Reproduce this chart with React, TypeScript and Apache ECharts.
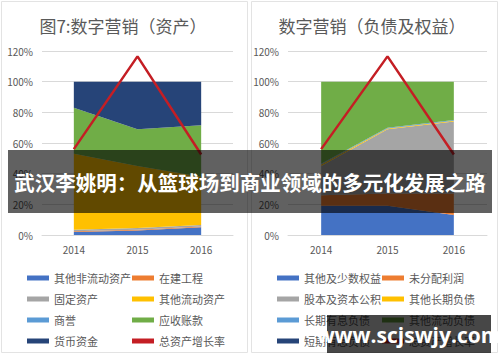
import React, { useEffect, useRef } from "react";
import * as echarts from "echarts";

const years = ["2014", "2015", "2016"];

// Left chart: 资产 (percent of total)
const assetNames = ["其他非流动资产", "在建工程", "固定资产", "其他流动资产", "商誉", "应收账款", "货币资金"];
const otherNonCurrent = [2, 3, 5];
const constructionInProgress = [0.5, 0.5, 0.5];
const fixedAssets = [1, 1, 1];
const otherCurrent = [49.5, 40.5, 31.5];
const goodwill = [0, 0, 0];
const receivables = [30, 24, 33.5];
const cash = [17, 31, 28.5];
const assetValues = [otherNonCurrent, constructionInProgress, fixedAssets, otherCurrent, goodwill, receivables, cash];

// Right chart: 负债及权益 (percent of total)
const liabNames = ["其他及少数权益", "未分配利润", "股本及资本公积", "其他长期负债", "长期有息负债", "其他流动负债", "短期有息负债"];
const otherEquity = [19, 19, 13];
const retainedEarnings = [7, 8, 14];
const shareCapital = [19, 42, 47];
const otherLongTerm = [1, 0.5, 0.5];
const longTermDebt = [0.5, 0.5, 0.5];
const otherCurrentLiab = [53.5, 30, 25];
const shortTermDebt = [0, 0, 0];
const liabValues = [otherEquity, retainedEarnings, shareCapital, otherLongTerm, longTermDebt, otherCurrentLiab, shortTermDebt];

const lineName = "总资产增长率";
const growthRate = [56, 116.5, 52.5];

const yTicks = [0, 20, 40, 60, 80, 100, 120];

const colors = ["#4472C4", "#ED7D31", "#A5A5A5", "#FFC000", "#5B9BD5", "#70AD47", "#264478"];
const lineColor = "#C41E24";
const textColor = "#595959";
const font = "'Noto Sans CJK SC', 'Noto Sans', sans-serif";

export default function App() {
  const ref = useRef<HTMLDivElement>(null);
  useEffect(() => {
    document.body.style.margin = "0";
    const chart = echarts.init(ref.current!, undefined, { renderer: "svg" });

    const makeAxes = (idx: number) => ({
      x: {
        type: "category",
        gridIndex: idx,
        data: years,
        boundaryGap: true,
        axisLine: { lineStyle: { color: "#D9D9D9" } },
        axisTick: { show: false },
        axisLabel: { color: textColor, fontSize: 10, fontFamily: font, margin: 9 },
      },
      y: {
        type: "value",
        gridIndex: idx,
        min: yTicks[0],
        max: yTicks[yTicks.length - 1],
        interval: 20,
        axisLine: { show: false },
        axisTick: { show: false },
        axisLabel: { color: textColor, fontSize: 10, fontFamily: font, formatter: "{value}%", margin: 9 },
        splitLine: { lineStyle: { color: "#D9D9D9" } },
      },
    });
    const a0 = makeAxes(0);
    const a1 = makeAxes(1);

    const areaSeries = (names: string[], values: number[][], idx: number, stack: string) =>
      names.map((n, i) => ({
        name: n,
        type: "line",
        xAxisIndex: idx,
        yAxisIndex: idx,
        stack,
        data: values[i],
        symbol: "none",
        lineStyle: { width: 0 },
        itemStyle: { color: colors[i] },
        areaStyle: { color: colors[i], opacity: 1 },
        z: 2,
      }));

    const lineSeries = (idx: number) => ({
      name: lineName,
      type: "line",
      xAxisIndex: idx,
      yAxisIndex: idx,
      data: growthRate,
      symbol: "none",
      lineStyle: { color: lineColor, width: 2.5 },
      itemStyle: { color: lineColor },
      z: 5,
    });

    const legend = (data: string[], left: number) => ({
      orient: "vertical",
      left,
      top: 266,
      data: data.map((d) => ({ name: d, icon: "rect" })),
      itemWidth: 22,
      itemHeight: 5,
      itemGap: 7,
      selectedMode: false,
      textStyle: { color: textColor, fontSize: 11, fontFamily: font, lineHeight: 14 },
    });

    chart.setOption({
      animation: false,
      backgroundColor: "#ffffff",
      title: [
        {
          text: "图7:数字营销（资产）",
          left: 118,
          top: 12,
          textAlign: "center",
          textStyle: { color: textColor, fontSize: 17, fontWeight: "normal", fontFamily: font },
        },
        {
          text: "数字营销（负债及权益）",
          left: 367,
          top: 12,
          textAlign: "center",
          textStyle: { color: textColor, fontSize: 17, fontWeight: "normal", fontFamily: font },
        },
      ],
      grid: [
        { left: 42, right: 267, top: 51, bottom: 127 },
        { left: 288, right: 13, top: 51, bottom: 127 },
      ],
      xAxis: [a0.x, a1.x],
      yAxis: [a0.y, a1.y],
      legend: [
        legend([assetNames[0], assetNames[2], assetNames[4], assetNames[6]], 22),
        legend([assetNames[1], assetNames[3], assetNames[5], lineName], 127),
        legend([liabNames[0], liabNames[2], liabNames[4], liabNames[6]], 272),
        legend([liabNames[1], liabNames[3], liabNames[5], lineName], 377),
      ],
      series: [
        ...areaSeries(assetNames, assetValues, 0, "assets"),
        lineSeries(0),
        ...areaSeries(liabNames, liabValues, 1, "liab"),
        lineSeries(1),
      ],
      graphic: [
        { type: "rect", z: 50, shape: { x: 1.5, y: 1.5, width: 246, height: 351 }, style: { fill: "none", stroke: "#E3E3E3", lineWidth: 1 } },
        { type: "rect", z: 50, shape: { x: 251.5, y: 1.5, width: 246, height: 351 }, style: { fill: "none", stroke: "#E3E3E3", lineWidth: 1 } },
        { type: "rect", z: 100, shape: { x: 8, y: 150, width: 484, height: 63 }, style: { fill: "rgba(0,0,0,0.62)" } },
        {
          type: "text",
          z: 101,
          x: 250,
          y: 182,
          style: {
            text: "武汉李姚明：从篮球场到商业领域的多元化发展之路",
            fill: "#ffffff",
            font: "bold 20.5px 'Noto Sans CJK SC', sans-serif",
            textAlign: "center",
            textVerticalAlign: "middle",
          },
        },
        { type: "rect", z: 100, shape: { x: 327, y: 315, width: 164, height: 38 }, style: { fill: "rgba(0,0,0,0.72)" } },
        {
          type: "text",
          z: 101,
          x: 409,
          y: 335,
          style: {
            text: "www.scjswjy.com",
            fill: "#ffffff",
            font: "bold 21px 'Open Sans', 'DejaVu Sans', sans-serif",
            textAlign: "center",
            textVerticalAlign: "middle",
          },
        },
      ],
    });
    return () => chart.dispose();
  }, []);
  return <div ref={ref} style={{ width: 500, height: 362 }} />;
}
